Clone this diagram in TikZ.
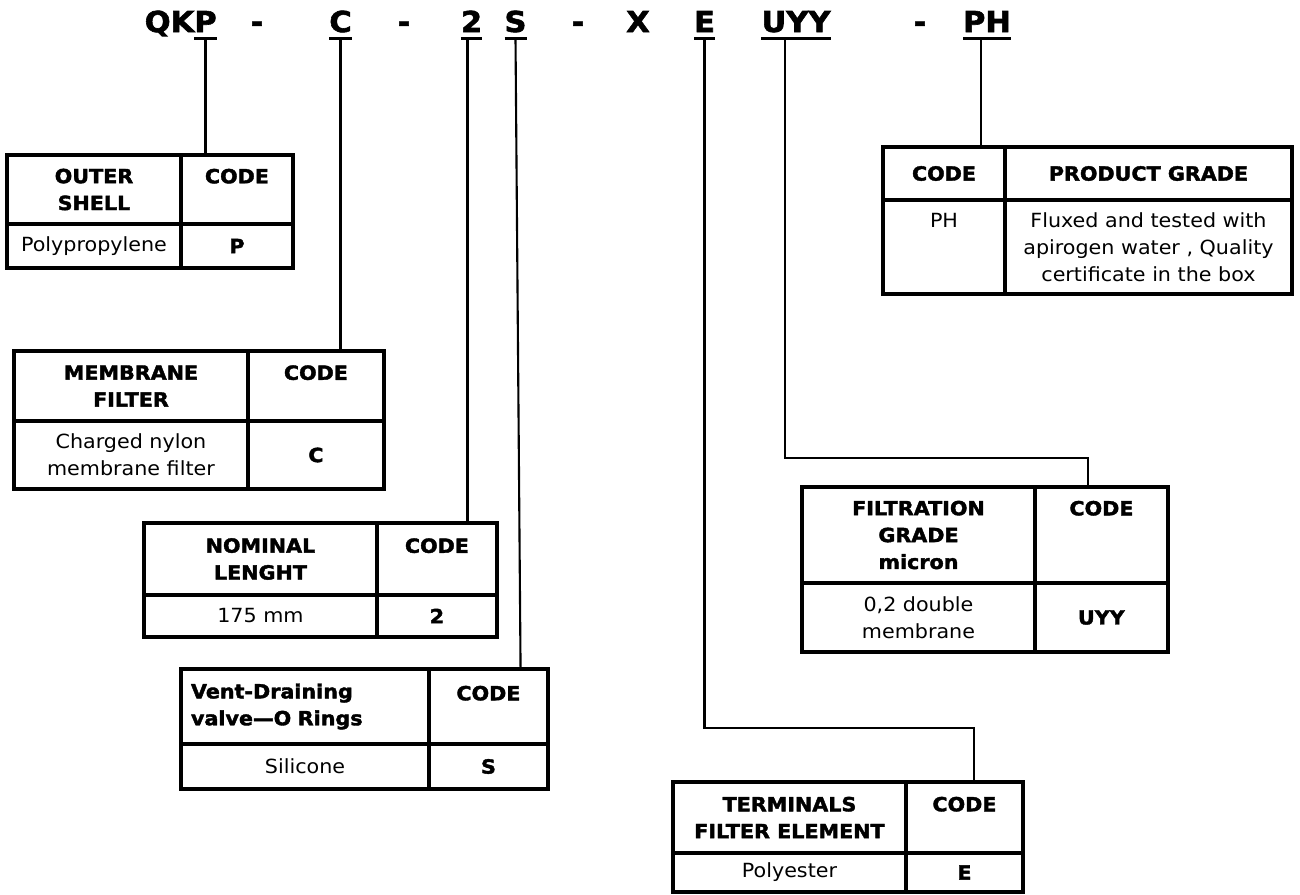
\documentclass[tikz,border=0pt]{standalone}
\usepackage{fontspec}
\setmainfont[FakeStretch=1.06, BoldFeatures={FakeBold=2}]{DejaVu Sans}
\usepackage{tikz}
\usetikzlibrary{positioning, calc}
\newcommand{\tabfont}{\fontsize{11.1}{15.3}\selectfont}
\newcommand{\codefont}{\fontsize{16.4}{18}\selectfont\bfseries}
\tikzset{
    cell/.style = {draw, line width=1.8pt, inner sep=0pt, outer sep=0pt, anchor=north west, align=center, font=\tabfont},
    head/.style = {cell, font=\tabfont\bfseries},
    code/.style = {inner sep=0pt, outer sep=0pt, anchor=base, text depth=3.7pt, font=\codefont},
    uline/.style = {line width=1.8pt},
    link/.style = {line width=1.2pt}
}
\begin{document}
\begin{tikzpicture}[x=0.02cm, y=-0.02cm]
\useasboundingbox (0,0) rectangle (1300,894);

% ---- Product code (top) ----
\node[code] (P) at (205.5,32) {P};
\node[code, anchor=base east] (QK) at (P.base west) {QK};
\node[code] (dashA) at (257,32) {-};
\node[code] (C) at (340.5,32) {C};
\node[code] (dashB) at (404,32) {-};
\node[code] (two) at (471.5,32) {2};
\node[code] (S) at (515.5,32) {S};
\node[code] (dashC) at (578,32) {-};
\node[code] (X) at (638,32) {X};
\node[code] (E) at (704.5,32) {E};
\node[code] (UYY) at (796,32) {UYY};
\node[code] (dashD) at (920,32) {-};
\node[code] (PH) at (987,32) {PH};
\foreach \k in {P, C, two, S, E, UYY, PH}
  \draw[uline] (\k.south west) -- (\k.south east);

% ---- OUTER SHELL (top-left) ----
\node[head, minimum width=3.48cm, minimum height=1.38cm] (shellH) at (7,155) {OUTER\\SHELL};
\node[head, minimum width=2.24cm, minimum height=1.38cm] (shellC) at (shellH.north east) {CODE\\\mbox{}};
\node[cell, minimum width=3.48cm, minimum height=0.88cm] (shellV) at (shellH.south west) {Polypropylene};
\node[cell, minimum width=2.24cm, minimum height=0.88cm] (shellP) at (shellH.south east) {\textbf{P}};

% ---- MEMBRANE FILTER ----
\node[head, minimum width=4.68cm, minimum height=1.40cm] (memH) at (14,351) {MEMBRANE\\FILTER};
\node[head, minimum width=2.72cm, minimum height=1.40cm] (memC) at (memH.north east) {CODE\\\mbox{}};
\node[cell, minimum width=4.68cm, minimum height=1.36cm] (memV) at (memH.south west) {Charged nylon\\membrane filter};
\node[cell, minimum width=2.72cm, minimum height=1.36cm] (memP) at (memH.south east) {\textbf{C}};

% ---- NOMINAL LENGHT ----
\node[head, minimum width=4.66cm, minimum height=1.44cm] (lenH) at (144,523) {NOMINAL\\LENGHT};
\node[head, minimum width=2.40cm, minimum height=1.44cm] (lenC) at (lenH.north east) {CODE\\\mbox{}};
\node[cell, minimum width=4.66cm, minimum height=0.84cm] (lenV) at (lenH.south west) {175 mm};
\node[cell, minimum width=2.40cm, minimum height=0.84cm] (lenP) at (lenH.south east) {\textbf{2}};

% ---- Vent-Draining valve ----
\node[head, align=left, text width=4.56cm, minimum width=4.96cm, minimum height=1.50cm] (ventH) at (181,669) {Vent-Draining\\valve—O Rings};
\node[head, minimum width=2.38cm, minimum height=1.50cm] (ventC) at (ventH.north east) {CODE\\\mbox{}};
\node[cell, minimum width=4.96cm, minimum height=0.90cm] (ventV) at (ventH.south west) {Silicone};
\node[cell, minimum width=2.38cm, minimum height=0.90cm] (ventP) at (ventH.south east) {\textbf{S}};

% ---- PRODUCT GRADE (top-right) ----
\node[head, minimum width=2.44cm, minimum height=1.06cm] (gradeC) at (883,147) {CODE};
\node[head, minimum width=5.74cm, minimum height=1.06cm] (gradeH) at (gradeC.north east) {PRODUCT GRADE};
\node[cell, minimum width=2.44cm, minimum height=1.88cm] (gradeP) at (gradeC.south west) {PH\\\mbox{}\\\mbox{}};
\node[cell, minimum width=5.74cm, minimum height=1.88cm] (gradeV) at (gradeC.south east) {Fluxed and tested with\\apirogen water , Quality\\certificate in the box};

% ---- FILTRATION GRADE ----
\node[head, minimum width=4.66cm, minimum height=1.92cm] (filtH) at (802,487) {FILTRATION\\GRADE\\micron};
\node[head, minimum width=2.66cm, minimum height=1.92cm] (filtC) at (filtH.north east) {CODE\\\mbox{}\\\mbox{}};
\node[cell, minimum width=4.66cm, minimum height=1.38cm] (filtV) at (filtH.south west) {0,2 double\\membrane};
\node[cell, minimum width=2.66cm, minimum height=1.38cm] (filtP) at (filtH.south east) {\textbf{UYY}};

% ---- TERMINALS FILTER ELEMENT (bottom) ----
\node[head, minimum width=4.66cm, minimum height=1.42cm] (termH) at (673,782) {TERMINALS\\FILTER ELEMENT};
\node[head, minimum width=2.34cm, minimum height=1.42cm] (termC) at (termH.north east) {CODE\\\mbox{}};
\node[cell, minimum width=4.66cm, minimum height=0.78cm] (termV) at (termH.south west) {Polyester};
\node[cell, minimum width=2.34cm, minimum height=0.78cm] (termP) at (termH.south east) {\textbf{E}};

% ---- Connectors ----
\coordinate (twoTap) at ($(two.south)+(-4,0)$);
\coordinate (uyyTap) at ($(UYY.south)+(-11,0)$);
\coordinate (phTap) at ($(PH.south)+(-6,0)$);
\draw[link] (P.south) -- (P.south |- shellC.north);
\draw[link] (C.south) -- (C.south |- memC.north);
\draw[link] (twoTap) -- (twoTap |- lenC.north);
\draw[link] (S.south) -- ($(ventC.north west)!0.77!(ventC.north east)$);
\draw[link] (E.south) -- ++(0,689.5) -| ($(termC.north)+(9.5,0)$);
\draw[link] (uyyTap) -- ++(0,419.5) -| ($(filtC.north)+(-13.5,0)$);
\draw[link] (phTap) -- (phTap |- gradeC.north);

\end{tikzpicture}
\end{document}
